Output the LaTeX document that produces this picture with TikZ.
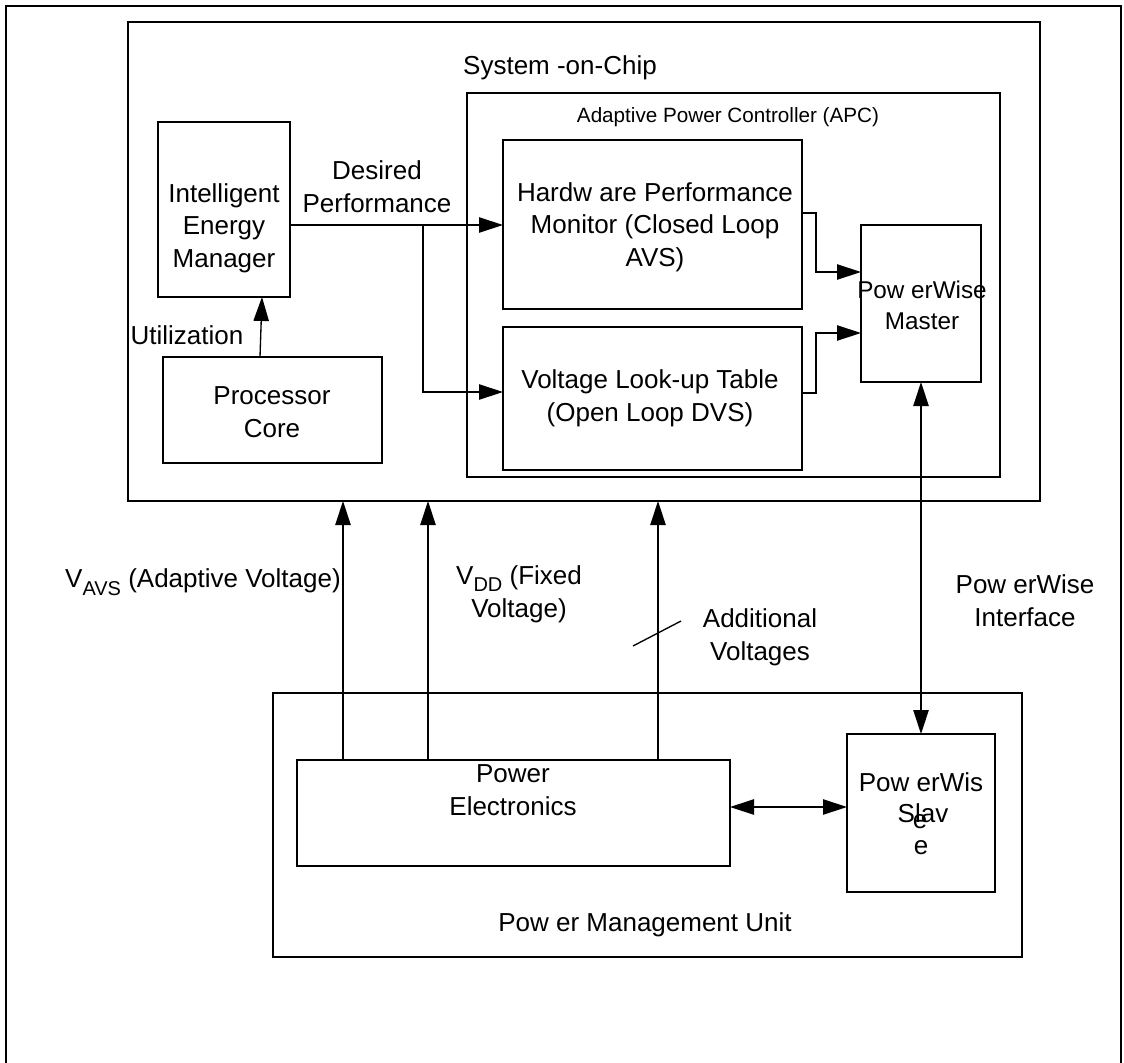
\documentclass[tikz,border=0pt]{standalone}
\usepackage{fontspec}
\setmainfont{Liberation Sans}
\usetikzlibrary{arrows.meta,fit}
\begin{document}
\begin{tikzpicture}[x=0.75pt,y=-0.75pt,
  box/.style={draw, line width=1pt, inner sep=0pt, outer sep=0pt},
  lbl/.style={font=\fontsize{19.5}{24.5}\selectfont, inner sep=0pt, align=center},
  midlbl/.style={font=\fontsize{18.2}{23}\selectfont, inner sep=0pt, align=center},
  smalllbl/.style={font=\fontsize{15.5}{19}\selectfont, inner sep=0pt},
  tip/.tip={Triangle[length=18pt,width=11.5pt]},
  arr/.style={line width=1pt, -tip},
  biarr/.style={line width=1pt, tip-tip},
  wire/.style={line width=1pt}]
\useasboundingbox (0,0) rectangle (1124,1063);
% outer frame (open at the bottom)
\draw[line width=1.3pt] (6,1070) -- (6,6) -- (1121,6) -- (1121,1070);
% boxes
\node[box, fit={(128,22) (1040,501)}] (soc) {};
\node[box, fit={(467,93) (1000,477)}] (apc) {};
\node[box, fit={(158,122) (290,297)}] (iem) {};
\node[box, fit={(163,357) (382,463)}] (pc) {};
\node[box, fit={(503,140) (802,309)}] (hpm) {};
\node[box, fit={(503,327) (802,470)}] (lut) {};
\node[box, fit={(861,225) (981,382)}] (master) {};
\node[box, fit={(273,693) (1022,957)}] (pmu) {};
\node[box, fit={(297,760) (730,866)}] (pe) {};
\node[box, fit={(847,734) (995,892)}] (slave) {};
% texts
\node[lbl] (socT) at (560,68) {System -on-Chip};
\node[smalllbl] (apcT) at (728,117) {Adaptive Power Controller (APC)};
\node[lbl] (iemT) at (224,228) {Intelligent\\Energy\\Manager};
\node[lbl] (despT) at (377,187) {Desired\\Performance};
\node[lbl] (utilT) at (187,335) {Utilization};
\node[lbl] (pcT) at (272,412) {Processor\\Core};
\node[lbl] (hpmT) at (655,227) {Hardw are Performance\\Monitor (Closed Loop\\AVS)};
\node[lbl] (lutT) at (650,398) {Voltage Look-up Table\\(Open Loop DVS)};
\node[midlbl] (masterT) at (922,305) {Pow erWise\\Master};
\node[lbl, anchor=east] (vavsT) at (341,582) {V\raisebox{-0.55ex}{\fontsize{15}{15}\selectfont AVS} (Adaptive Voltage)};
\node[lbl] (vddT) at (519,594) {V\raisebox{-0.55ex}{\fontsize{15}{15}\selectfont DD} (Fixed\\Voltage)};
\node[lbl] (addT) at (760,637) {Additional\\Voltages};
\node[lbl] (pwiT) at (1025,601) {Pow erWise\\Interface};
\node[lbl] (peT) at (513,790) {Power\\Electronics};
\node[lbl] (slaveA) at (921,782) {Pow erWis};
\node[lbl] (slaveB) at (923,813) {Slav};
\node[lbl] (slaveC) at (920,822) {e};
\node[lbl] (slaveD) at (921,848) {e};
\node[lbl] (pmuT) at (645,925) {Pow er Management Unit};
% connectors
\coordinate (split) at (423,225);
\draw[arr] (iem.east |- split) -- (hpm.west |- split);
\draw[arr] (split) |- (lut.west |- 0,392);
\draw[arr] (pc.north -| 260,0) -- (iem.south -| 262,0);
\draw[arr] (hpm.east |- 0,213) -- (816,213) |- (master.west |- 0,272);
\draw[arr] (lut.east |- 0,393) -- (816,393) |- (master.west |- 0,333);
\draw[biarr] (master.south) -- (slave.north);
\draw[biarr] (pe.east |- 0,807) -- (slave.west |- 0,807);
\draw[arr] (pe.north -| 343,0) -- (soc.south -| 343,0);
\draw[arr] (pe.north -| 428,0) -- (soc.south -| 428,0);
\draw[arr] (pe.north -| 658,0) -- (soc.south -| 658,0);
\coordinate (slashA) at (633,646);
\coordinate (slashB) at (681,621);
\draw[wire] (slashA) -- (slashB);
\end{tikzpicture}
\end{document}
